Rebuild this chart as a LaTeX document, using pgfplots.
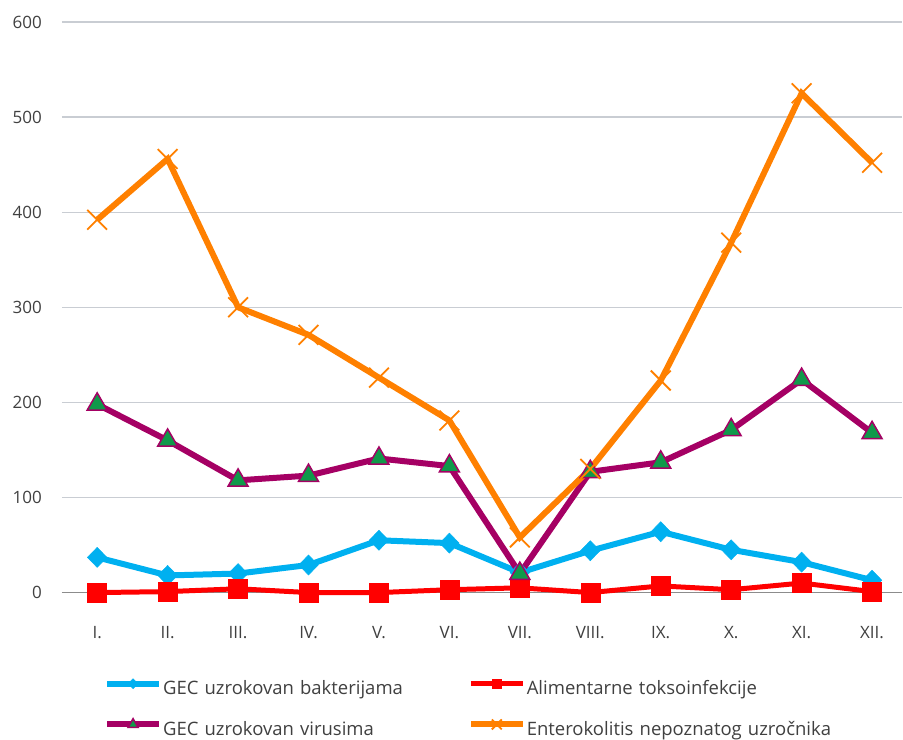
\documentclass[border=0pt]{standalone}
\usepackage{fontspec}
\setmainfont{Open Sans}
\usepackage{pgfplots}
\pgfplotsset{compat=1.18}
\definecolor{cblue}{HTML}{00B0F0}
\definecolor{cred}{HTML}{FF0000}
\definecolor{cpurple}{HTML}{A50064}
\definecolor{cgreen}{HTML}{10994A}
\definecolor{corange}{HTML}{FF8000}
\definecolor{cgrid}{HTML}{C9CDD3}
\definecolor{caxis}{HTML}{8C8C8C}
\definecolor{ctext}{HTML}{404040}
\begin{document}
\fontsize{17bp}{20bp}\selectfont
\begin{tikzpicture}
\path (-62bp,-145bp) rectangle (841bp,593bp);
\begin{axis}[
  at={(0,0)}, anchor=south west,
  scale only axis, width=841bp, height=571bp,
  xmin=-0.5, xmax=11.43, ymin=0, ymax=600,
  ytick={0,100,...,600},
  xtick={0,...,11},
  xticklabels={I.,II.,III.,IV.,V.,VI.,VII.,VIII.,IX.,X.,XI.,XII.},
  axis x line*=bottom, axis y line*=left,
  x axis line style={draw=caxis, line width=1.3bp},
  y axis line style={draw=none},
  ymajorgrids, grid style={cgrid, line width=1.3bp},
  major tick length=0pt,
  tick style={draw=none},
  /pgf/number format/assume math mode=true,
  every tick label/.append style={text=ctext, inner sep=0pt},
  yticklabel style={anchor=east, xshift=-20bp},
  xticklabel style={anchor=base, yshift=-46bp},
  clip=false,
  legend columns=2,
  legend cell align=left,
  legend style={at={(axis description cs:0.0499,-0.1506)}, anchor=north west,
    draw=none, inner sep=0pt, text=ctext, row sep=20bp,
    font=\fontsize{18.5bp}{22bp}\selectfont,
    nodes={inner sep=0pt, text height=14bp, text depth=4bp},
    /tikz/every odd column/.append style={column sep=1bp},
    /tikz/every even column/.append style={text width=305bp}},
  legend image code/.code={
    \draw[#1, mark repeat=2, mark phase=2, every mark/.append style={scale=0.5}]
      plot coordinates {(0bp,6bp) (26bp,6bp) (52bp,6bp)};
  },
]
\addplot[cblue, line width=6bp, mark=diamond*, mark size=10bp,
  mark options={xscale=1.3, fill=cblue, draw=cblue, line width=0.5bp}]
  coordinates {(0,37) (1,18) (2,20) (3,29) (4,55) (5,52) (6,21) (7,44) (8,64) (9,45) (10,32) (11,13)};
\addlegendentry{GEC uzrokovan bakterijama}
\addplot[cred, line width=5bp, mark=square*, mark size=9.5bp,
  mark options={fill=cred, draw=cred, line width=0.5bp}]
  coordinates {(0,0) (1,1) (2,4) (3,0) (4,0) (5,3) (6,5) (7,0) (8,7) (9,3) (10,10) (11,1)};
\addlegendentry{Alimentarne toksoinfekcije}
\addplot[cpurple, line width=6bp, mark=triangle*, mark size=11.5bp,
  mark options={fill=cgreen, draw=cpurple, line width=1.5bp}]
  coordinates {(0,198) (1,160) (2,118) (3,123) (4,141) (5,133) (6,20) (7,127) (8,137) (9,171) (10,224) (11,168)};
\addlegendentry{GEC uzrokovan virusima}
\addplot[corange, line width=6bp, mark=x, mark size=14bp,
  mark options={draw=corange, line width=1.8bp}]
  coordinates {(0,392) (1,456) (2,300) (3,271) (4,226) (5,181) (6,58) (7,130) (8,223) (9,368) (10,525) (11,452)};
\addlegendentry{Enterokolitis nepoznatog uzročnika}
\end{axis}
\end{tikzpicture}
\end{document}
